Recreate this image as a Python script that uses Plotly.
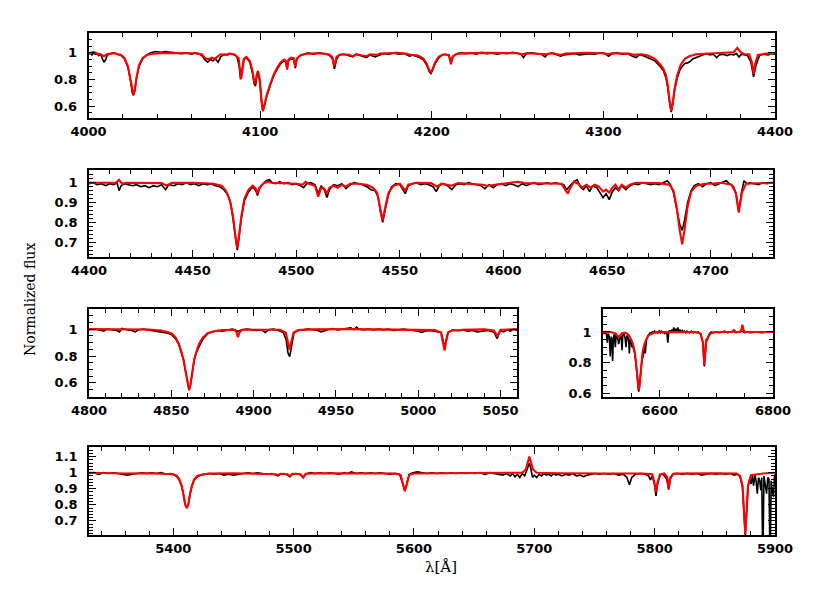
import plotly.graph_objects as go

# ---- data: (wavelength [A], normalized flux) ----
# panel 1: 4000-4400
mod_p1 = [(4000,0.995),(4003,1.008),(4005,0.996),(4007,0.99),(4009,0.975),(4011,0.992),(4015,0.997),(4019,0.985),
          (4021,0.96),(4023,0.90),(4024.5,0.80),(4025.5,0.71),(4026.2,0.685),(4027,0.72),(4028,0.82),(4029.5,0.91),
          (4031.5,0.96),(4034,0.985),(4038,0.995),(4045,1.0),(4055,0.999),(4062,0.998),(4066,0.99),(4068,0.96),
          (4070,0.952),(4072,0.965),(4073.5,0.955),(4075,0.97),(4077,0.99),(4080,0.985),(4082,0.995),(4085,0.99),
          (4087.5,0.96),(4088.3,0.87),(4089,0.805),(4089.7,0.87),(4090.5,0.955),(4092,0.97),(4094,0.94),(4095.5,0.87),
          (4096.5,0.79),(4097.3,0.77),(4098,0.84),(4098.8,0.865),(4099.8,0.80),(4100.8,0.65),(4101.6,0.565),(4102.5,0.61),
          (4104,0.69),(4106,0.77),(4108,0.84),(4110,0.89),(4112,0.93),(4114,0.95),(4115,0.94),(4115.7,0.88),
          (4116.5,0.95),(4118,0.965),(4119.6,0.96),(4120.5,0.895),(4121.4,0.96),(4124,0.985),(4128,0.995),(4135,0.998),
          (4140,0.99),(4142,0.97),(4143.3,0.90),(4144.5,0.97),(4147,0.99),(4152,0.985),(4154,0.975),(4156,0.99),
          (4158,0.985),(4162,0.975),(4164,0.99),(4168,0.985),(4170,0.995),(4180,1.0),(4185,0.995),(4188,0.985),
          (4192,0.98),(4195,0.96),(4197,0.92),(4198.5,0.87),(4199.5,0.855),(4200.5,0.88),(4202,0.93),(4204,0.97),
          (4207,0.99),(4210,0.985),(4211.2,0.915),(4212.2,0.97),(4215,0.995),(4230,1.0),(4250,0.998),(4253,0.99),
          (4255,0.998),(4265,0.995),(4267,0.99),(4270,0.998),(4273,0.99),(4275,0.985),(4278,0.995),(4290,1.0),
          (4300,0.998),(4303,0.99),(4305,0.998),(4315,0.995),(4318,0.985),(4322,0.99),(4326,0.98),(4330,0.955),
          (4333,0.915),(4335,0.88),(4336.5,0.83),(4337.5,0.76),(4338.5,0.65),(4339.5,0.565),(4340.5,0.63),(4341.5,0.73),
          (4343,0.83),(4345,0.91),(4347.5,0.955),(4350,0.975),(4354,0.99),(4360,0.995),(4366,0.995),(4370,0.998),
          (4376,1.005),(4378,1.038),(4380,1.005),(4382,0.99),(4385,0.99),(4386.5,0.93),(4387.5,0.84),(4388.5,0.92),
          (4390,0.985),(4395,0.995),(4400,0.998)]
obs_p1 = [(4000,0.99),(4001,1.0),(4002,0.985),(4003,1.0),(4004,0.99),(4005,0.995),(4006,0.98),(4007,0.99),(4008,0.96),
          (4009,0.93),(4010,0.95),(4011,0.985),(4013,0.995),(4015,1.0),(4017,0.99),(4019,0.98),(4021,0.955),(4023,0.89),
          (4024.5,0.79),(4025.5,0.70),(4026.2,0.68),(4027,0.72),(4028,0.81),(4029.5,0.90),(4031.5,0.955),(4034,0.985),
          (4036,1.0),(4039,1.01),(4042,1.005),(4045,1.01),(4048,1.005),(4051,1.0),(4054,0.995),(4057,1.0),(4060,0.99),
          (4062,1.0),(4064,0.995),(4066,0.98),(4068,0.945),(4069.5,0.93),(4071,0.95),(4072.5,0.94),(4074,0.955),
          (4075.5,0.93),(4077,0.97),(4079,0.99),(4081,0.985),(4083,0.995),(4085,0.985),(4086.5,0.97),(4087.8,0.90),
          (4088.6,0.80),(4089.4,0.86),(4090.5,0.95),(4092,0.965),(4094,0.93),(4095.5,0.85),(4096.5,0.77),(4097.3,0.75),
          (4098,0.82),(4098.8,0.85),(4099.8,0.78),(4100.8,0.63),(4101.6,0.56),(4102.5,0.60),(4104,0.68),(4106,0.76),
          (4108,0.83),(4110,0.88),(4112,0.92),(4114,0.94),(4115,0.93),(4115.7,0.875),(4116.5,0.94),(4118,0.955),
          (4119.6,0.95),(4120.5,0.885),(4121.4,0.95),(4123,0.98),(4125,0.99),(4128,1.0),(4131,0.99),(4134,1.0),
          (4137,0.995),(4140,0.985),(4142,0.96),(4143.3,0.88),(4144.5,0.95),(4146,0.985),(4149,0.99),(4152,0.975),
          (4154,0.97),(4156,0.99),(4159,0.98),(4162,0.965),(4164,0.985),(4167,0.97),(4169,0.98),(4172,0.995),
          (4175,0.99),(4178,1.0),(4181,0.99),(4184,0.995),(4187,0.975),(4189,0.985),(4192,0.97),(4195,0.95),
          (4197,0.91),(4198.5,0.86),(4199.5,0.845),(4200.5,0.87),(4202,0.92),(4204,0.96),(4206,0.985),(4208,0.99),
          (4210,0.98),(4211.2,0.93),(4212.2,0.975),(4214,0.99),(4217,1.0),(4220,0.995),(4223,1.0),(4226,0.99),
          (4229,1.005),(4232,0.995),(4235,1.0),(4238,0.99),(4241,1.0),(4244,0.995),(4247,1.005),(4250,0.995),
          (4252,0.99),(4253.5,0.965),(4255,0.995),(4258,1.0),(4261,0.995),(4264,0.99),(4266,0.97),(4267.5,0.99),
          (4270,1.0),(4273,0.985),(4275,0.975),(4277,0.985),(4280,0.99),(4283,0.995),(4286,0.985),(4289,0.99),
          (4292,0.995),(4295,0.99),(4298,1.0),(4301,0.995),(4303,0.975),(4305,0.995),(4308,1.0),(4311,0.99),
          (4314,0.995),(4317,0.975),(4319,0.965),(4321,0.985),(4322,0.985),(4324,0.975),(4326,0.965),(4328,0.955),
          (4330,0.94),(4333,0.90),(4335,0.865),(4336.5,0.81),(4337.5,0.74),(4338.5,0.63),(4339.5,0.555),(4340.5,0.62),
          (4341.5,0.72),(4343,0.81),(4344.5,0.87),(4346,0.90),(4347.5,0.92),(4349,0.925),(4350.5,0.935),(4352,0.955),
          (4354,0.965),(4356,0.98),(4358,0.99),(4360,0.995),(4362,0.985),(4364,0.99),(4366,0.965),(4367.5,0.985),
          (4370,0.99),(4372,0.98),(4374,0.99),(4376,0.985),(4377.5,0.995),(4379,0.97),(4380.5,0.99),(4382,0.985),
          (4384,0.98),(4386,0.93),(4387.5,0.82),(4389,0.91),(4391,0.98),(4393,0.99),(4396,0.985),(4398,0.995),(4400,0.99)]

# panel 2: 4400-4730
mod_p2 = [(4400,1.0),(4410,1.0),(4413,1.0),(4414.5,1.015),(4416,0.995),(4418,1.0),(4425,1.0),(4435,0.998),
          (4437.5,0.985),(4440,0.999),(4450,1.0),(4460,0.995),(4464,0.985),(4466,0.96),(4468,0.91),(4469.5,0.83),
          (4470.8,0.72),(4471.5,0.67),(4472.2,0.72),(4473.5,0.83),(4475,0.92),(4477,0.965),(4479,0.985),(4480.5,0.97),
          (4481.3,0.945),(4482.2,0.975),(4484,0.995),(4486,1.005),(4488,1.0),(4495,0.998),(4500,0.995),(4503,0.99),
          (4504.5,1.005),(4506,0.995),(4509,0.985),(4510.6,0.93),(4512,0.975),(4513.5,0.97),(4514.8,0.945),(4516,0.975),
          (4518,0.985),(4520,0.975),(4522,0.99),(4524,0.98),(4526,0.995),(4530,0.995),(4534,0.99),(4537,0.975),
          (4539,0.95),(4540.5,0.87),(4541.7,0.81),(4542.8,0.87),(4544.5,0.95),(4547,0.985),(4550,0.995),(4552.6,0.96),
          (4554,0.99),(4558,1.0),(4565,0.998),(4568,0.98),(4570,0.995),(4575,0.985),(4578,0.998),(4590,0.99),
          (4592,0.985),(4596,0.99),(4600,0.995),(4607,1.005),(4610,0.998),(4620,0.998),(4628,0.995),(4630,0.96),
          (4631,0.945),(4632,0.97),(4634,1.005),(4636,0.995),(4638,0.975),(4640,0.99),(4642,0.975),(4644,0.99),
          (4646,0.98),(4648,0.955),(4649.5,0.965),(4651,0.95),(4652.5,0.975),(4654,0.99),(4655.5,0.965),(4657,0.99),
          (4659,0.975),(4661,0.99),(4664,1.0),(4675,0.998),(4680,0.99),(4682,0.96),(4683.5,0.88),(4685,0.76),
          (4686.2,0.69),(4687.3,0.76),(4688.8,0.88),(4690.5,0.955),(4693,0.985),(4697,0.995),(4700,0.995),(4705,1.0),
          (4710,0.99),(4712,0.95),(4713.5,0.85),(4715,0.95),(4717,0.995),(4730,1.0)]
obs_p2 = [(4400,0.995),(4402,1.0),(4404,0.99),(4406,0.995),(4408,0.985),(4410,0.995),(4412,0.99),(4413.5,1.0),
          (4414.5,0.96),(4415.5,0.985),(4417,0.995),(4419,0.99),(4421,0.985),(4423,0.99),(4425,0.98),(4427,0.985),
          (4429,0.975),(4431,0.985),(4433,0.98),(4435,0.99),(4437,0.965),(4438.5,0.99),(4441,0.985),(4443,0.995),
          (4445,0.99),(4447,1.0),(4449,0.99),(4451,0.995),(4453,0.985),(4455,0.995),(4457,0.99),(4459,0.995),
          (4461,0.985),(4463,0.98),(4465,0.965),(4467,0.94),(4468.5,0.89),(4469.7,0.80),(4470.8,0.71),(4471.5,0.66),
          (4472.2,0.71),(4473.5,0.82),(4475,0.91),(4477,0.955),(4479,0.98),(4480.5,0.96),(4481.3,0.935),(4482.2,0.97),
          (4484,0.995),(4485.5,1.01),(4487,1.015),(4488.5,1.0),(4490,0.995),(4492,1.005),(4494,0.995),(4496,1.0),
          (4498,0.99),(4500,0.995),(4502,0.985),(4503.5,0.975),(4505,0.995),(4507,1.0),(4509,0.99),(4510.6,0.945),
          (4512,0.985),(4513.5,0.965),(4514.8,0.925),(4516,0.965),(4518,0.99),(4520,0.985),(4522,0.995),(4524,0.97),
          (4526,0.99),(4528,1.0),(4530,0.995),(4532,0.99),(4534,0.98),(4536,0.965),(4538,0.96),(4539.5,0.93),
          (4540.5,0.86),(4541.7,0.80),(4542.8,0.86),(4544.5,0.94),(4546,0.98),(4548,0.995),(4550,0.99),(4552.6,0.945),
          (4554,0.985),(4556,0.995),(4558,1.0),(4560,0.99),(4562,0.995),(4564,0.99),(4566,0.98),(4567.5,0.955),
          (4569,0.985),(4571,0.995),(4573,0.985),(4575,0.965),(4577,0.99),(4579,0.995),(4581,0.99),(4583,1.0),
          (4585,0.995),(4587,0.99),(4589,0.985),(4591,0.97),(4593,0.99),(4595,0.975),(4597,0.99),(4599,0.995),
          (4601,0.985),(4603,0.995),(4605,0.99),(4607,0.98),(4609,0.995),(4611,0.985),(4613,0.995),(4615,1.0),
          (4617,0.99),(4619,0.995),(4621,1.0),(4623,0.995),(4625,1.0),(4627,0.995),(4629,0.99),(4630.5,0.965),
          (4632,0.985),(4634,1.005),(4635.5,1.015),(4637,0.98),(4638.5,0.965),(4640,0.985),(4641.5,0.955),(4643,0.985),
          (4645,0.975),(4646.5,0.95),(4648,0.925),(4649.5,0.945),(4651,0.915),(4652.5,0.955),(4654,0.975),(4655.5,0.96),
          (4657,0.985),(4659,0.965),(4661,0.985),(4663,0.995),(4665,0.99),(4667,1.0),(4669,0.995),(4671,0.99),
          (4673,0.995),(4675,0.99),(4677,1.0),(4679,1.01),(4680.5,0.99),(4682,0.95),(4683.5,0.87),(4685,0.79),
          (4686.2,0.76),(4687.3,0.81),(4688.8,0.90),(4690.5,0.96),(4692,0.985),(4694,0.995),(4696,0.98),(4698,0.995),
          (4700,1.0),(4702,0.985),(4704,0.995),(4706,1.005),(4707.5,1.01),(4709,0.995),(4711,0.98),(4712.3,0.94),
          (4713.5,0.855),(4714.8,0.95),(4716,1.01),(4717.5,0.995),(4719,1.0),(4721,0.995),(4723,0.99),(4725,1.0),
          (4727,0.995),(4730,1.0)]

# panel 3: 4800-5060
mod_p3 = [(4800,1.0),(4820,0.998),(4836,0.997),(4844,0.99),(4850,0.97),(4852.5,0.94),(4854.6,0.89),(4856.2,0.83),
          (4857.4,0.775),(4858.8,0.68),(4860,0.585),(4860.8,0.548),(4861.6,0.585),(4862.8,0.68),(4863.9,0.775),
          (4865.2,0.83),(4866.8,0.89),(4869,0.935),(4872,0.97),(4876,0.985),(4881,0.993),(4888.5,0.995),(4889.6,0.975),
          (4890.5,0.94),(4891.4,0.975),(4893,0.996),(4905,0.998),(4916,0.995),(4919.5,0.975),(4921,0.90),(4921.9,0.845),
          (4922.8,0.90),(4924.3,0.975),(4927,0.993),(4935,0.998),(4960,1.0),(4990,0.998),(5000,0.995),(5010,0.993),
          (5013.8,0.975),(5015.2,0.90),(5016,0.84),(5016.8,0.90),(5018.2,0.975),(5021,0.993),(5025,0.99),(5027,0.995),
          (5040,0.998),(5046,0.99),(5047.3,0.96),(5048,0.95),(5048.8,0.965),(5050,0.995),(5060,1.0)]
obs_p3 = [(4800,0.995),(4803,1.0),(4806,0.995),(4809,0.985),(4811,1.0),(4814,0.995),(4817,0.99),(4818.5,0.98),
          (4820,1.005),(4823,0.995),(4826,0.99),(4828,0.98),(4830,0.995),(4833,1.0),(4836,0.995),(4839,0.99),
          (4842,0.985),(4845,0.98),(4848,0.97),(4850,0.96),(4852.5,0.93),(4854.6,0.885),(4856.2,0.825),(4857.4,0.77),
          (4858.8,0.675),(4860,0.58),(4860.8,0.545),(4861.6,0.58),(4862.8,0.675),(4863.9,0.77),(4865.2,0.825),
          (4866.8,0.875),(4868,0.90),(4869.5,0.93),(4872,0.965),(4875,0.98),(4878,0.99),(4881,0.985),(4884,0.995),
          (4887,1.0),(4890.5,0.985),(4893,0.995),(4896,1.0),(4899,0.995),(4902,0.99),(4905,0.995),(4907,0.975),
          (4909,0.995),(4912,1.0),(4915,0.99),(4918,0.975),(4919.8,0.92),(4920.9,0.82),(4921.9,0.795),(4922.9,0.87),
          (4924.5,0.97),(4927,0.99),(4930,0.995),(4933,1.0),(4936,0.995),(4939,0.99),(4941,0.98),(4943,0.985),
          (4945,0.995),(4948,1.005),(4951,0.995),(4954,1.0),(4957,1.005),(4959,1.01),(4961,0.995),(4962.5,1.015),
          (4964,1.0),(4967,0.995),(4970,1.0),(4973,0.995),(4976,1.0),(4979,0.995),(4982,1.0),(4985,0.99),(4988,0.995),
          (4991,1.0),(4994,0.995),(4997,0.99),(5000,0.985),(5002,0.975),(5004,0.985),(5007,0.99),(5010,0.985),
          (5014,0.975),(5015.2,0.91),(5016,0.86),(5016.8,0.91),(5018,0.975),(5021,0.995),(5024,0.99),(5027,0.995),
          (5030,0.985),(5033,0.99),(5036,0.98),(5039,0.985),(5042,0.99),(5044.5,0.985),(5046.5,0.97),(5047.3,0.945),
          (5048,0.93),(5048.8,0.96),(5050,0.99),(5052,0.98),(5054,0.995),(5056,0.985),(5058,1.0),(5060,0.99)]

# panel 4: 6500-6800
mod_p4 = [(6500,1.0),(6515,0.998),(6522,0.99),(6525,0.975),(6527.5,0.967),(6530,0.975),(6533,0.99),(6538,0.995),
          (6542,0.99),(6545,0.98),(6550,0.95),(6553,0.92),(6556,0.87),(6558,0.81),(6560,0.72),(6561.8,0.645),
          (6563,0.62),(6564.2,0.645),(6566,0.72),(6568,0.81),(6570,0.87),(6573,0.92),(6576,0.95),(6581,0.98),
          (6586,0.99),(6590,0.995),(6600,1.0),(6640,1.0),(6665,0.998),(6672,0.99),(6676.5,0.93),(6677.8,0.84),
          (6678.8,0.785),(6679.8,0.84),(6681,0.93),(6682.5,0.955),(6684,0.95),(6686,0.97),(6690,0.99),(6695,0.998),
          (6720,1.0),(6728,1.0),(6731,1.012),(6734,1.0),(6742,1.0),(6744.5,1.02),(6746,1.048),(6747.5,1.02),
          (6750,1.0),(6800,1.0)]
obs_p4 = [(6500,1.0),(6502,0.99),(6504,1.0),(6506,0.985),(6507.5,0.93),(6509,0.99),(6511,0.97),(6512.9,0.84),
          (6514.5,0.97),(6516,0.93),(6517,0.81),(6518.3,0.96),(6520,0.985),(6521.8,0.90),(6523.2,0.98),(6525,0.965),
          (6526.5,0.95),(6527.7,0.92),(6529,0.96),(6531,0.985),(6532.5,0.95),(6533.6,0.88),(6534.8,0.975),(6537,0.99),
          (6539,0.96),(6540.7,0.90),(6542,0.975),(6544,0.97),(6545.5,0.93),(6546.6,0.86),(6547.8,0.955),(6549.5,0.94),
          (6551.3,0.90),(6552.5,0.915),(6554,0.885),(6556,0.86),(6558,0.80),(6560,0.71),(6561.8,0.64),(6563,0.61),
          (6564.2,0.635),(6566,0.71),(6568,0.80),(6569.5,0.85),(6570.5,0.83),(6571.5,0.88),(6573,0.91),(6574.5,0.86),
          (6575.5,0.93),(6577,0.955),(6579,0.975),(6581,0.985),(6583,0.995),(6585,0.99),(6587,1.0),(6589,0.995),
          (6591,1.005),(6593,0.995),(6595,1.0),(6597,0.99),(6599,1.01),(6601,0.995),(6603,1.005),(6605,0.995),
          (6607,1.0),(6609,0.99),(6611,1.0),(6613,0.985),(6614.4,0.93),(6615.8,0.99),(6617,1.01),(6619,0.995),
          (6621,1.015),(6623,1.0),(6625,1.03),(6626.5,1.005),(6628,1.02),(6630,1.0),(6632,1.03),(6634,1.005),
          (6636,1.015),(6638,0.995),(6640,1.01),(6642,1.0),(6644,1.005),(6646,0.995),(6648,1.005),(6650,1.0),
          (6653,0.995),(6656,1.005),(6659,0.995),(6662,1.0),(6665,0.995),(6668,1.0),(6671,0.99),(6673,0.985),
          (6675,0.95),(6676.5,0.92),(6677.8,0.83),(6678.8,0.775),(6679.8,0.83),(6681,0.92),(6682.5,0.95),(6684,0.955),
          (6686,0.975),(6688,0.99),(6691,1.0),(6695,0.995),(6700,1.0),(6705,0.995),(6710,1.0),(6715,1.005),
          (6720,0.995),(6725,1.0),(6730,1.005),(6735,0.995),(6740,1.0),(6745,1.005),(6750,0.995),(6755,1.0),
          (6760,0.995),(6770,1.0),(6780,0.995),(6790,1.0),(6800,1.0)]

# panel 5: 5330-5900
mod_p5 = [(5330,1.0),(5340,0.998),(5360,0.995),(5380,0.997),(5395,0.995),(5400,0.99),(5403,0.98),(5405,0.96),
          (5407,0.92),(5408.5,0.87),(5410,0.80),(5411.3,0.78),(5412.5,0.80),(5414,0.87),(5415.5,0.92),(5417.5,0.96),
          (5420,0.98),(5425,0.99),(5430,0.995),(5450,0.997),(5480,0.995),(5485,0.99),(5487,0.985),(5489,0.993),
          (5495,0.99),(5497,0.978),(5499,0.993),(5506,0.99),(5508,0.97),(5510,0.993),(5520,0.997),(5560,0.997),
          (5585,0.995),(5589,0.985),(5591,0.92),(5592.4,0.885),(5593.8,0.92),(5596,0.985),(5600,0.995),(5640,0.997),
          (5660,0.995),(5680,0.997),(5690,1.0),(5693,1.02),(5694.8,1.07),(5695.9,1.10),(5697,1.07),(5699,1.02),
          (5702,1.0),(5720,0.997),(5760,0.995),(5790,0.995),(5798,0.99),(5799.8,0.94),(5801.1,0.88),(5802.4,0.94),
          (5804.5,0.99),(5808,0.995),(5810.5,0.97),(5811.7,0.90),(5813,0.97),(5816,0.995),(5850,0.997),(5868,0.995),
          (5871,0.98),(5873,0.92),(5874.3,0.75),(5875.3,0.62),(5876.3,0.75),(5877.6,0.92),(5880,0.985),(5890,0.995),
          (5900,1.0)]
obs_p5 = [(5330,0.995),(5334,1.0),(5338,0.99),(5342,1.0),(5346,0.995),(5350,1.0),(5354,0.995),(5358,0.99),
          (5362,0.985),(5366,0.99),(5370,0.995),(5374,1.0),(5378,0.995),(5382,1.0),(5386,0.995),(5390,1.0),
          (5394,0.99),(5398,0.995),(5401,0.985),(5403,0.975),(5405,0.955),(5407,0.915),(5408.5,0.865),(5410,0.80),
          (5411.3,0.785),(5412.5,0.80),(5414,0.865),(5415.5,0.915),(5417.5,0.955),(5420,0.975),(5423,0.985),
          (5426,0.99),(5430,0.995),(5434,0.99),(5438,0.995),(5442,0.985),(5446,0.99),(5450,0.985),(5454,0.99),
          (5458,0.995),(5462,1.0),(5466,0.995),(5470,1.0),(5474,0.995),(5478,0.99),(5482,0.995),(5485,0.985),
          (5487,0.98),(5489,0.99),(5492,0.995),(5495,0.985),(5497,0.975),(5499,0.99),(5502,0.995),(5505,0.99),
          (5508,0.97),(5510,0.99),(5514,1.0),(5518,0.995),(5522,1.0),(5526,0.995),(5530,1.0),(5534,0.995),(5538,0.99),
          (5542,1.0),(5545,0.995),(5548,1.005),(5552,0.995),(5556,1.0),(5560,0.995),(5564,1.0),(5568,0.995),
          (5572,1.0),(5576,0.995),(5580,0.99),(5584,0.995),(5588,0.99),(5591,0.925),(5592.4,0.89),(5593.8,0.925),
          (5596,0.99),(5599,1.0),(5603,1.005),(5607,1.0),(5611,0.995),(5615,1.0),(5619,0.995),(5623,1.0),(5627,0.995),
          (5631,1.0),(5635,0.995),(5639,1.0),(5643,0.995),(5647,1.0),(5651,0.995),(5655,1.0),(5659,0.99),(5663,1.0),
          (5667,0.995),(5671,0.99),(5674,0.985),(5677,0.995),(5680,0.98),(5682,0.995),(5684,0.975),(5686,0.99),
          (5688,0.97),(5690,0.995),(5692,0.98),(5694,1.02),(5695.9,1.06),(5697,1.03),(5698.5,0.97),(5700,0.985),
          (5702,0.97),(5704,0.99),(5706,0.98),(5708,0.995),(5710,0.985),(5712,0.99),(5714,0.98),(5716,0.995),
          (5718,0.985),(5720,0.99),(5723,0.98),(5726,0.99),(5729,0.985),(5732,0.995),(5735,0.98),(5738,0.985),
          (5741,0.975),(5744,0.985),(5747,0.99),(5750,0.995),(5754,0.99),(5758,0.995),(5762,0.99),(5766,0.995),
          (5770,0.985),(5774,0.99),(5777,0.97),(5779,0.925),(5781,0.97),(5784,0.99),(5788,0.995),(5792,0.99),
          (5795,0.98),(5796.5,0.955),(5798,0.98),(5799.8,0.93),(5801.1,0.855),(5802.4,0.93),(5804.5,0.985),
          (5807,0.99),(5810,0.96),(5811.7,0.895),(5813,0.96),(5815,0.99),(5819,0.995),(5823,0.99),(5827,0.995),
          (5831,0.99),(5835,0.995),(5839,0.985),(5843,0.99),(5847,0.995),(5851,0.99),(5855,0.995),(5859,0.99),
          (5863,0.995),(5866,0.985),(5869,0.99),(5871,0.975),(5873,0.91),(5874.3,0.74),(5875.3,0.61),(5876.3,0.74),
          (5877.6,0.91),(5879,0.96),(5880.2,0.93),(5881.2,0.98),(5882.2,0.92),(5883.3,0.985),(5884.3,0.95),
          (5885.3,0.87),(5886.3,0.97),(5887.3,0.95),(5888.2,0.89),(5889,0.97),(5889.9,0.40),(5890.8,0.98),
          (5892,0.93),(5893,0.87),(5894,0.97),(5895,0.96),(5895.9,0.40),(5896.8,0.95),(5897.8,0.88),(5898.8,0.85),
          (5899.5,0.97),(5900,0.99)]

# ---- panel layout: pixel boxes measured on the 817x599 page ----
# the page body adds an 8px margin, so the figure itself is 8px smaller and offset
PAGE_W, PAGE_H, OFF = 817, 599, 8
W, H = PAGE_W - OFF, PAGE_H - OFF

def px_x(x):
    return (x - OFF) / W

def px_y(y):
    return 1 - (y - OFF) / H

panels = [
    # obs, model, x range, y range, x px, y px (top,bottom), x dtick/minor, y dtick/minor
    (obs_p1, mod_p1, [4000, 4400], [0.51, 1.15], (88.5, 775), (33, 118), 100, 20, 0.2, 0.05),
    (obs_p2, mod_p2, [4400, 4730], [0.626, 1.064], (89, 773), (170, 257), 50, 10, 0.1, 0.02),
    (obs_p3, mod_p3, [4800, 5060], [0.495, 1.15], (89, 517), (309, 397), 50, 10, 0.2, 0.05),
    (obs_p4, mod_p4, [6500, 6800], [0.575, 1.15], (603, 773), (309, 397), 200, 50, 0.2, 0.05),
    (obs_p5, mod_p5, [5330, 5900], [0.612, 1.16], (89, 775), (447, 535), 100, 20, 0.1, 0.02),
]

tick_font = dict(family="DejaVu Sans", size=13, color="black", weight="bold")

fig = go.Figure()
layout = {}
for i, (obs, mod, xr, yr, xpx, ypx, xd, xm, yd, ym) in enumerate(panels, start=1):
    sfx = "" if i == 1 else str(i)
    for data, color, width in ((obs, "black", 1.6), (mod, "#ff0000", 2.1)):
        wl, fl = zip(*data)
        fig.add_trace(go.Scatter(
            x=list(wl), y=list(fl), mode="lines",
            line=dict(color=color, width=width),
            xaxis="x" + sfx, yaxis="y" + sfx,
            showlegend=False, hoverinfo="skip",
        ))
    common = dict(
        showline=True, linecolor="black", linewidth=1.5, mirror="ticks",
        ticks="inside", ticklen=7, tickwidth=1.3, tickcolor="black",
        showgrid=False, zeroline=False, tickfont=tick_font, tick0=0,
        automargin=False,
    )
    layout["xaxis" + sfx] = dict(
        common, domain=[px_x(xpx[0]), px_x(xpx[1])], range=xr, anchor="y" + sfx,
        dtick=xd, ticklabelstandoff=1,
        minor=dict(dtick=xm, ticks="inside", ticklen=4, tickcolor="black", tickwidth=1),
    )
    layout["yaxis" + sfx] = dict(
        common, domain=[px_y(ypx[1]), px_y(ypx[0])], range=yr, anchor="x" + sfx,
        dtick=yd, ticklabelstandoff=7,
        minor=dict(dtick=ym, ticks="inside", ticklen=4, tickcolor="black", tickwidth=1),
    )

fig.update_layout(
    **layout,
    width=W, height=H,
    margin=dict(l=0, r=0, t=0, b=0),
    paper_bgcolor="white", plot_bgcolor="white",
    annotations=[
        dict(text="Normalized flux", x=px_x(30), y=px_y(300), xref="paper", yref="paper",
             xanchor="center", yanchor="middle", textangle=-90, showarrow=False,
             font=dict(family="DejaVu Serif", size=14, color="black")),
        dict(text="λ[Å]", x=px_x(441), y=px_y(567), xref="paper", yref="paper",
             xanchor="center", yanchor="middle", showarrow=False,
             font=dict(family="DejaVu Serif", size=15, color="black")),
    ],
)

fig.write_html("out.html")
